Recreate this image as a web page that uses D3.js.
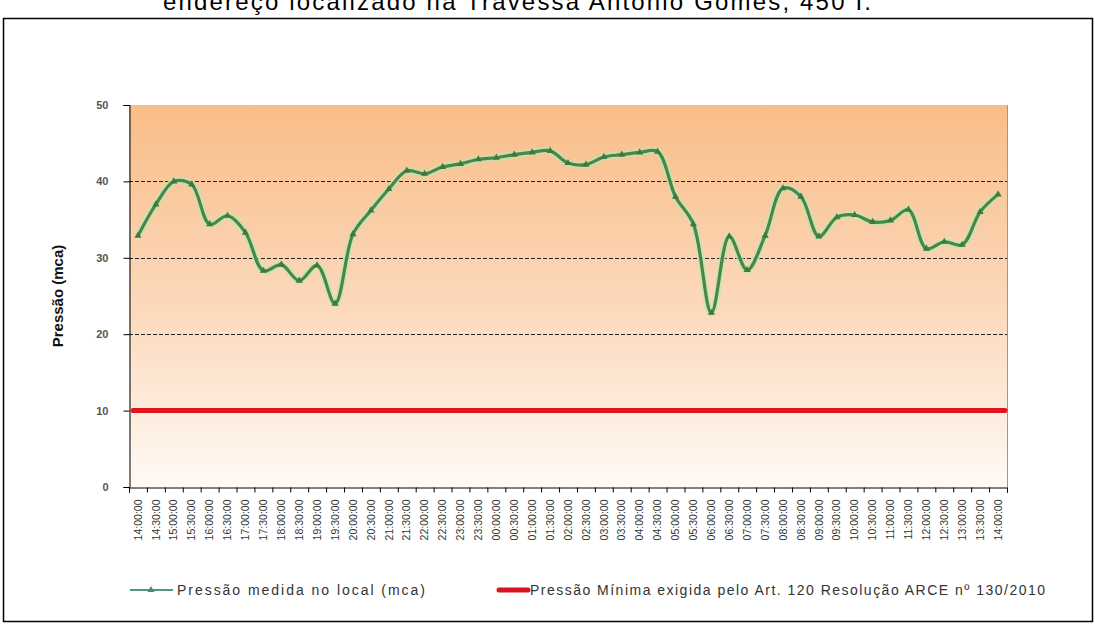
<!DOCTYPE html>
<html>
<head>
<meta charset="utf-8">
<script src="https://cdn.jsdelivr.net/npm/d3@7"></script>
<style>
  body { margin: 0; background: #fff; }
  svg { display: block; font-family: "Liberation Sans", Arial, sans-serif; }
</style>
</head>
<body>
<svg width="1095" height="624"></svg>
<script>
// horarios das medicoes (a cada 30 min)
var horarios = ["14:00:00","14:30:00","15:00:00","15:30:00","16:00:00","16:30:00","17:00:00","17:30:00",
  "18:00:00","18:30:00","19:00:00","19:30:00","20:00:00","20:30:00","21:00:00","21:30:00",
  "22:00:00","22:30:00","23:00:00","23:30:00","00:00:00","00:30:00","01:00:00","01:30:00",
  "02:00:00","02:30:00","03:00:00","03:30:00","04:00:00","04:30:00","05:00:00","05:30:00",
  "06:00:00","06:30:00","07:00:00","07:30:00","08:00:00","08:30:00","09:00:00","09:30:00",
  "10:00:00","10:30:00","11:00:00","11:30:00","12:00:00","12:30:00","13:00:00","13:30:00","14:00:00"];

// pressao medida no local (mca)
var pressao = [32.9, 37.0, 40.0, 39.6, 34.4, 35.5, 33.3, 28.3,
  29.1, 27.0, 29.0, 24.0, 33.1, 36.2, 39.0, 41.4,
  41.0, 41.9, 42.3, 42.9, 43.1, 43.5, 43.8, 44.0,
  42.4, 42.2, 43.2, 43.5, 43.8, 43.9, 38.0, 34.4,
  22.8, 32.8, 28.4, 32.9, 39.1, 38.0, 32.8, 35.3,
  35.6, 34.7, 34.9, 36.3, 31.2, 32.1, 31.7, 36.0, 38.3];

// pressao minima exigida
var pressaoMinima = 10;
var yTicks = [0, 10, 20, 30, 40, 50];
var gridValores = [20, 30, 40];

(function() {
var svg = d3.select("svg");

var pLeft = 129, pRight = 1007, pTop = 105, pBottom = 487;

var x = d3.scaleBand()
    .domain(d3.range(horarios.length))
    .range([pLeft, pRight]);

var xEdge = d3.scaleLinear()
    .domain([0, horarios.length])
    .range([pLeft, pRight]);

var y = d3.scaleLinear()
    .domain([0, 50])
    .range([pBottom, pTop]);

// moldura
svg.append("rect")
    .attr("x", 3.5).attr("y", 18.5)
    .attr("width", 1089).attr("height", 603)
    .attr("fill", "none")
    .attr("stroke", "#000")
    .attr("stroke-width", 1.5);

// titulo (cortado no topo)
svg.append("text")
    .attr("x", 163)
    .attr("y", 10)
    .attr("font-size", "24px")
    .attr("textLength", 708)
    .attr("fill", "#000")
    .text("endereço localizado na Travessa Antonio Gomes, 450 I.");

// fundo em degrade
var defs = svg.append("defs");
var grad = defs.append("linearGradient")
    .attr("id", "fundo")
    .attr("x1", 0).attr("y1", 0).attr("x2", 0).attr("y2", 1);
grad.append("stop").attr("offset", "0%").attr("stop-color", "#f9bd88");
grad.append("stop").attr("offset", "55%").attr("stop-color", "#fcdabd");
grad.append("stop").attr("offset", "100%").attr("stop-color", "#fffaf6");

svg.append("rect")
    .attr("x", pLeft).attr("y", pTop)
    .attr("width", pRight - pLeft).attr("height", pBottom - pTop)
    .attr("fill", "url(#fundo)");

// borda direita
svg.append("line")
    .attr("x1", pRight + 0.5).attr("x2", pRight + 0.5)
    .attr("y1", pTop).attr("y2", pBottom)
    .attr("stroke", "#999");

// linhas de grade
svg.append("g")
    .attr("class", "grid")
  .selectAll("line")
  .data(gridValores)
  .enter().append("line")
    .attr("x1", pLeft).attr("x2", pRight)
    .attr("y1", function(d) { return Math.round(y(d)) + 0.5; })
    .attr("y2", function(d) { return Math.round(y(d)) + 0.5; })
    .attr("stroke", "#222")
    .attr("stroke-dasharray", "4,2");

// eixo y
var gy = svg.append("g")
    .attr("transform", "translate(" + (pLeft + 0.5) + ",0)")
    .call(d3.axisLeft(y).tickValues(yTicks).tickSize(6).tickPadding(15));
gy.select(".domain").attr("stroke", "#000");
gy.selectAll("text")
    .attr("font-size", "11px")
    .attr("font-weight", "bold")
    .attr("fill", "#555");

svg.append("text")
    .attr("transform", "translate(63," + ((pTop + pBottom) / 2) + ") rotate(-90)")
    .attr("text-anchor", "middle")
    .attr("font-family", "'Liberation Sans Narrow', 'Liberation Sans', Arial")
    .attr("font-size", "15px")
    .attr("font-weight", "bold")
    .attr("fill", "#111")
    .text("Pressão (mca)");

// eixo x: marcas nas divisas das categorias
var gxTicks = svg.append("g")
    .attr("transform", "translate(0," + (pBottom + 0.5) + ")")
    .call(d3.axisBottom(xEdge).tickValues(d3.range(horarios.length + 1)).tickSize(5).tickFormat(""));
gxTicks.select(".domain").attr("stroke", "#000");

var gx = svg.append("g")
    .attr("transform", "translate(0," + (pBottom + 0.5) + ")")
    .call(d3.axisBottom(x).tickSize(0).tickPadding(0).tickFormat(function(i) { return horarios[i]; }));
gx.select(".domain").remove();
gx.selectAll("text")
    .attr("transform", "rotate(-90)")
    .attr("text-anchor", "end")
    .attr("x", -12)
    .attr("y", 0)
    .attr("dy", "0.35em")
    .attr("font-size", "10.5px")
    .attr("fill", "#333");

// linha de pressao minima
svg.append("line")
    .attr("x1", pLeft + 4).attr("x2", pRight - 2)
    .attr("y1", y(pressaoMinima)).attr("y2", y(pressaoMinima))
    .attr("stroke", "#e0141c")
    .attr("stroke-width", 5)
    .attr("stroke-linecap", "round");

// serie medida
var line = d3.line()
    .x(function(d, i) { return x(i) + x.bandwidth() / 2; })
    .y(function(d) { return y(d); })
    .curve(d3.curveCatmullRom.alpha(0.5));

svg.append("path")
    .datum(pressao)
    .attr("d", line)
    .attr("fill", "none")
    .attr("stroke", "#b4ecb0")
    .attr("stroke-opacity", 0.7)
    .attr("stroke-width", 7)
    .attr("stroke-linejoin", "round");

svg.append("path")
    .datum(pressao)
    .attr("d", line)
    .attr("fill", "none")
    .attr("stroke", "#4d8449")
    .attr("stroke-width", 3.2)
    .attr("stroke-linejoin", "round");

var tri = d3.symbol().type(d3.symbolTriangle).size(22);

svg.append("g")
  .selectAll("path")
  .data(pressao)
  .enter().append("path")
    .attr("d", tri)
    .attr("transform", function(d, i) {
      return "translate(" + (x(i) + x.bandwidth() / 2) + "," + y(d) + ")";
    })
    .attr("fill", "#3f7a3c");

// legenda
var leg = svg.append("g").attr("transform", "translate(0,590)");

leg.append("line")
    .attr("x1", 130).attr("x2", 173)
    .attr("stroke", "#4f9a7a").attr("stroke-width", 2);
leg.append("path")
    .attr("d", tri)
    .attr("transform", "translate(151,0)")
    .attr("fill", "#4f8a6b");
leg.append("text")
    .attr("x", 177).attr("dy", "0.35em")
    .attr("font-size", "14px")
    .attr("fill", "#333")
    .attr("textLength", 248)
    .text("Pressão medida no local (mca)");

leg.append("line")
    .attr("x1", 499).attr("x2", 528)
    .attr("stroke", "#d81420").attr("stroke-width", 5)
    .attr("stroke-linecap", "round");
leg.append("text")
    .attr("x", 530).attr("dy", "0.35em")
    .attr("font-size", "14px")
    .attr("fill", "#333")
    .attr("textLength", 515)
    .text("Pressão Mínima exigida pelo Art. 120 Resolução ARCE nº 130/2010");
})();
</script>
</body>
</html>
